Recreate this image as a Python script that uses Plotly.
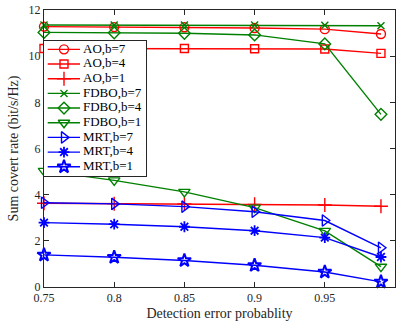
import plotly.graph_objects as go

x = [0.75, 0.8, 0.85, 0.9, 0.95, 0.99]
names = ["AO,b=7", "AO,b=4", "AO,b=1", "FDBO,b=7", "FDBO,b=4", "FDBO,b=1",
         "MRT,b=7", "MRT,b=4", "MRT,b=1"]
ao_b7 = [11.28, 11.26, 11.25, 11.22, 11.17, 10.96]
ao_b4 = [10.33, 10.33, 10.33, 10.32, 10.31, 10.12]
ao_b1 = [3.63, 3.61, 3.60, 3.58, 3.55, 3.50]
fdbo_b7 = [11.35, 11.35, 11.35, 11.35, 11.34, 11.32]
fdbo_b4 = [11.03, 11.01, 10.99, 10.92, 10.53, 7.48]
fdbo_b1 = [5.03, 4.62, 4.12, 3.44, 2.43, 0.88]
mrt_b7 = [3.65, 3.60, 3.48, 3.26, 2.88, 1.70]
mrt_b4 = [2.79, 2.72, 2.61, 2.44, 2.14, 1.30]
mrt_b1 = [1.39, 1.29, 1.15, 0.94, 0.65, 0.22]

series = [ao_b7, ao_b4, ao_b1, fdbo_b7, fdbo_b4, fdbo_b1, mrt_b7, mrt_b4, mrt_b1]
colors = ["#ff0000"] * 3 + ["#008000"] * 3 + ["#0000ff"] * 3
symbols = ["circle-open", "square-open", "cross-thin-open",
           "x-thin-open", "diamond-open", "triangle-down-open",
           "triangle-right-open", "asterisk-open", "star-open"]
sizes = [9, 8, 10, 7, 9, 10, 10, 9, 10]
widths = [1.4, 1.4, 1.4, 1.4, 1.4, 1.4, 1.4, 1.8, 2.0]

font = "Liberation Serif"
axcol = "#262626"

fig = go.Figure()
for n, y, c, s, sz, w in zip(names, series, colors, symbols, sizes, widths):
    fig.add_trace(go.Scatter(
        x=x, y=y, name=n, mode="lines+markers", showlegend=False,
        cliponaxis=False, hoverinfo="skip",
        line=dict(color=c, width=1.4),
        marker=dict(symbol=s, size=sz, color=c, line=dict(color=c, width=w)),
    ))

# hand-built legend box in an inset subplot (pixel-like units)
rows = [8 - i for i in range(len(names))]
for n, r, c, s, sz, w in zip(names, rows, colors, symbols, sizes, widths):
    fig.add_trace(go.Scatter(
        x=[3.7, 36], y=[r, r], mode="lines", xaxis="x2", yaxis="y2",
        showlegend=False, hoverinfo="skip", line=dict(color=c, width=1.4)))
    fig.add_trace(go.Scatter(
        x=[20], y=[r], mode="markers", xaxis="x2", yaxis="y2",
        showlegend=False, hoverinfo="skip",
        marker=dict(symbol=s, size=sz, color=c, line=dict(color=c, width=w))))
fig.add_trace(go.Scatter(
    x=[39] * len(names), y=rows, text=names, mode="text",
    textposition="middle right", xaxis="x2", yaxis="y2",
    showlegend=False, hoverinfo="skip",
    textfont=dict(family=font, size=13, color="#000000")))

fig.update_layout(
    width=396, height=327,
    margin=dict(l=44, r=1, t=10, b=40),
    paper_bgcolor="white", plot_bgcolor="white",
    font=dict(family=font, size=12, color=axcol),
    showlegend=False,
    xaxis=dict(range=[0.75, 1.0], tickvals=[0.75, 0.8, 0.85, 0.9, 0.95, 1.0],
               ticktext=["0.75", "0.8", "0.85", "0.9", "0.95", "1"],
               ticks="inside", ticklen=5, tickcolor=axcol,
               showline=True, linecolor=axcol, linewidth=1, mirror="ticks",
               showgrid=False, zeroline=False, automargin=False,
               title=dict(text="Detection error probablity", standoff=3,
                          font=dict(family=font, size=14)),
               tickfont=dict(family=font, size=12)),
    yaxis=dict(range=[0, 12], tickvals=[0, 2, 4, 6, 8, 10, 12],
               ticks="inside", ticklen=5, tickcolor=axcol,
               showline=True, linecolor=axcol, linewidth=1, mirror="ticks",
               showgrid=False, zeroline=False, automargin=False,
               title=dict(text="Sum covert rate (bit/s/Hz)", standoff=6,
                          font=dict(family=font, size=14)),
               tickfont=dict(family=font, size=12)),
    xaxis2=dict(domain=[0.0, 0.2906], range=[0, 102], anchor="y2",
                showline=True, linecolor=axcol, linewidth=1, mirror=True,
                showgrid=False, zeroline=False, showticklabels=False, ticks=""),
    yaxis2=dict(domain=[0.4007, 0.8892], range=[-0.63, 8.59], anchor="x2",
                showline=True, linecolor=axcol, linewidth=1, mirror=True,
                showgrid=False, zeroline=False, showticklabels=False, ticks=""),
)

fig.write_html("out.html")
